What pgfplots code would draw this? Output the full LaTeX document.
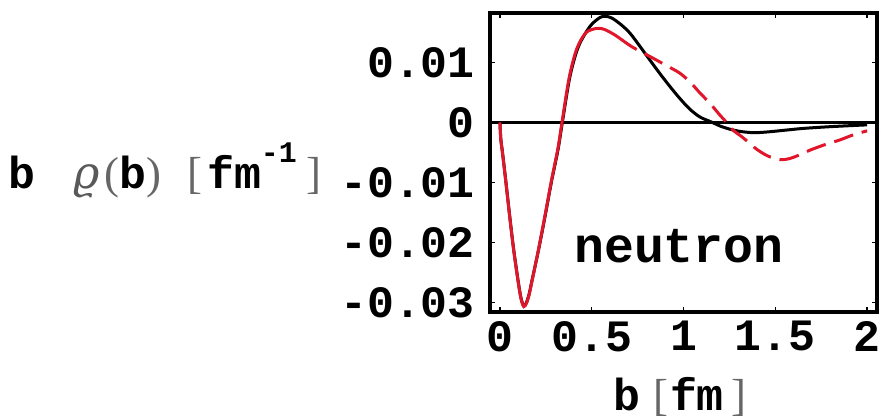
\documentclass[border=0pt]{standalone}
\usepackage{fontspec}
\setmainfont{Liberation Mono}
\newfontfamily\bracketfont{Liberation Serif}
\newfontfamily\greekfont{DejaVu Serif}
\usepackage{pgfplots}
\pgfplotsset{compat=1.18}
\definecolor{curvered}{RGB}{225,22,42}
\newcommand{\br}[1]{\textcolor{black!60}{\bracketfont\mdseries #1}}

\begin{document}
\begin{tikzpicture}[x=1bp,y=1bp]
\useasboundingbox (0,0) rectangle (880,419);
\begin{axis}[
  at={(490bp,107bp)}, anchor=south west,
  scale only axis, width=387bp, height=299bp,
  xmin=-0.054, xmax=2.054, ymin=-0.0316, ymax=0.01825,
  axis line style={line width=3.5bp},
  xtick={0,0.5,1,1.5,2}, xticklabels={0,0.5,1,1.5,2},
  ytick={-0.03,-0.02,-0.01,0,0.01}, yticklabels={-0.03,-0.02,-0.01,0,0.01},
  scaled y ticks=false,
  tick align=inside, major tick length=5bp,
  tick style={line width=1.5bp, black},
  ticklabel style={font=\fontsize{45}{50}\selectfont\bfseries, inner sep=0pt},
  xticklabel style={yshift=-9bp},
  yticklabel style={xshift=-15bp},
]
% zero line
\addplot[black, line width=3bp] coordinates {(-0.1,0) (2.1,0)};
% full calculation
\addplot[black, line width=3bp, smooth] coordinates {
(0,0) (0.005,-0.0028) (0.014,-0.0050) (0.03,-0.0092) (0.054,-0.0158)
(0.075,-0.0212) (0.10,-0.0266) (0.115,-0.0293) (0.13,-0.0306) (0.145,-0.0300)
(0.16,-0.0285) (0.173,-0.0266) (0.21,-0.0213) (0.245,-0.0158) (0.28,-0.0100)
(0.316,-0.0046) (0.34,0.0) (0.381,0.0076) (0.427,0.0126) (0.49,0.0160)
(0.545,0.0175) (0.575,0.0177) (0.61,0.0174) (0.66,0.0163) (0.708,0.0149)
(0.76,0.0128) (0.817,0.0104) (0.87,0.0082) (0.926,0.0060) (0.98,0.0040)
(1.035,0.0022) (1.09,0.0009) (1.15,0.0001) (1.2,-0.0006) (1.25,-0.0011)
(1.31,-0.0015) (1.38,-0.0017) (1.45,-0.0016) (1.55,-0.0013) (1.65,-0.0010)
(1.8,-0.0007) (2.0,-0.0004)};
% parametrisation: inner part solid
\addplot[curvered, line width=3bp, smooth] coordinates {
(0,0) (0.005,-0.0029) (0.014,-0.0051) (0.03,-0.0093) (0.054,-0.0159)
(0.075,-0.0213) (0.10,-0.0267) (0.115,-0.0294) (0.13,-0.0307) (0.145,-0.0301)
(0.16,-0.0286) (0.173,-0.0267) (0.21,-0.0212) (0.245,-0.0156) (0.28,-0.0098)
(0.316,-0.0043) (0.338,0.0) (0.378,0.0076) (0.42,0.0124) (0.47,0.0150)
(0.53,0.0157) (0.57,0.0155) (0.62,0.0147) (0.654,0.0140)};
% parametrisation: outer part dashed
\addplot[curvered, line width=3bp, smooth, dash pattern=on 20bp off 9bp] coordinates {
(0.654,0.0140) (0.72,0.0126) (0.817,0.0110) (0.90,0.0096) (0.981,0.0082)
(1.04,0.0066) (1.09,0.0049) (1.144,0.0032) (1.199,0.0012) (1.235,0.0)
(1.27,-0.0013) (1.31,-0.0022) (1.35,-0.0032) (1.40,-0.0045) (1.46,-0.0056)
(1.526,-0.0062) (1.58,-0.0060) (1.64,-0.0053) (1.69,-0.0046) (1.77,-0.0037)
(1.853,-0.0029) (1.93,-0.0020) (2.0,-0.0014)};
\node[anchor=base, inner sep=0pt] at (axis cs:0.975,-0.0234)
  {\fontsize{50}{55}\selectfont\bfseries neutron};
\end{axis}
% axis titles
\node[anchor=base west, inner sep=0pt, font=\fontsize{45}{50}\selectfont\bfseries] at (8,231)
  {b\hspace{38bp}\textcolor{black!65}{\greekfont\mdseries\itshape ϱ}\hspace{5bp}\br{(}b\br{)}\hspace{26bp}\br{[}\hspace{5bp}fm\raisebox{26bp}{\fontsize{30}{30}\selectfont -1}\hspace{10bp}\br{]}};
\node[anchor=base west, inner sep=0pt, font=\fontsize{45}{50}\selectfont\bfseries] at (613,9)
  {b\hspace{13bp}\br{[}\hspace{2bp}fm\hspace{8bp}\br{]}};
\end{tikzpicture}
\end{document}
